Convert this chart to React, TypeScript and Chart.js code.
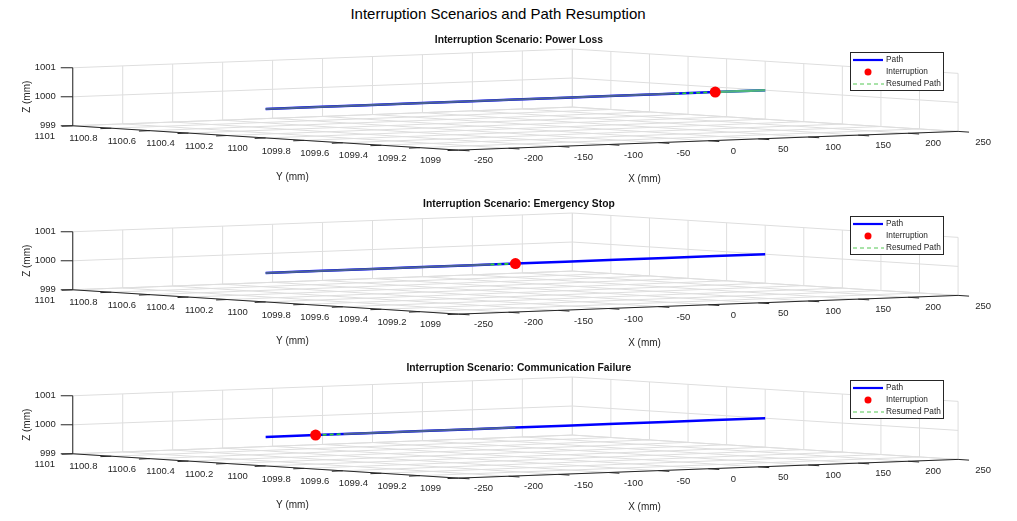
import React, { useEffect, useRef } from "react";
import { Chart, registerables } from "chart.js";

Chart.register(...registerables);

// ---------------- data ----------------
const FIG_TITLE = "Interruption Scenarios and Path Resumption";
const scenarioTitles = [
  "Interruption Scenario: Power Loss",
  "Interruption Scenario: Emergency Stop",
  "Interruption Scenario: Communication Failure",
];
const pathX = [-250, -200, -150, -100, -50, 0, 50, 100, 150, 200, 250];
const pathYValue = 1100;
const pathZValue = 1000;
const interruptionX = [200, 0, -200];
// resumed path pieces (x in mm)
const resumedDashStart = [160, -25, -200];
const resumedDashEnd = [200, 0, -172];
const resumedBlendStart = [-250, -250, -172];
const resumedBlendEnd = [160, -25, 0];
const resumedSolidStart = [200, NaN, NaN];
const resumedSolidEnd = [250, NaN, NaN];

const xTicks = [-250, -200, -150, -100, -50, 0, 50, 100, 150, 200, 250];
const xTickLabels = ["-250", "-200", "-150", "-100", "-50", "0", "50", "100", "150", "200", "250"];
const yTicks = [1101, 1100.8, 1100.6, 1100.4, 1100.2, 1100, 1099.8, 1099.6, 1099.4, 1099.2, 1099];
const yTickLabels = ["1101", "1100.8", "1100.6", "1100.4", "1100.2", "1100", "1099.8", "1099.6", "1099.4", "1099.2", "1099"];
const zTicks = [999, 1000, 1001];
const zTickLabels = ["999", "1000", "1001"];
const xRange = [-250, 250];
const yRange = [1101, 1099];
const zRange = [999, 1001];

// ---------------- layout / style ----------------
const W = 1017;
const H = 172;
const CANVAS_TOPS = [22, 186, 350];
const ORIGIN = { u: 68, v: 105 }; // screen point of (xmin, ymax, zmin) inside a subplot canvas
const EX = { u: 505, v: -20 };
const EY = { u: 390, v: 26 };
const EZ = { u: 0, v: -62 };
const FONT = "'Liberation Sans', Arial, Helvetica, sans-serif";
const TEXT = "#262626";
const GRID = "#dedede";
const AXIS = "#262626";
const BLUE = "#0000ff";
const RED = "#ff0000";
const GREEN_DASH = "#2fcf3a";
const GREEN_SOLID = "#4fb47e";
const BLEND = "#4a6391";

function proj(x: number, y: number, z: number) {
  const fx = (x - xRange[0]) / (xRange[1] - xRange[0]);
  const fy = (y - yRange[0]) / (yRange[1] - yRange[0]);
  const fz = (z - zRange[0]) / (zRange[1] - zRange[0]);
  return {
    x: ORIGIN.u + fx * EX.u + fy * EY.u + fz * EZ.u,
    y: ORIGIN.v + fx * EX.v + fy * EY.v + fz * EZ.v,
  };
}

function pathPt(x: number) {
  return proj(x, pathYValue, pathZValue);
}

function makePlugin(idx: number) {
  return {
    id: "matlab3d" + idx,
    beforeDatasetsDraw(chart: any) {
      const ctx = chart.ctx as CanvasRenderingContext2D;
      const sx = chart.scales.x;
      const sy = chart.scales.y;
      const P = (x: number, y: number, z: number) => {
        const p = proj(x, y, z);
        return [sx.getPixelForValue(p.x), sy.getPixelForValue(p.y)];
      };
      const seg = (a: number[], b: number[]) => {
        ctx.beginPath();
        ctx.moveTo(a[0], a[1]);
        ctx.lineTo(b[0], b[1]);
        ctx.stroke();
      };
      const [x0, x1] = xRange;
      const [y0, y1] = yRange;
      const [z0, z1] = zRange;
      ctx.save();
      ctx.strokeStyle = GRID;
      ctx.lineWidth = 1;
      // floor grid (z = zmin)
      xTicks.forEach((x) => seg(P(x, y0, z0), P(x, y1, z0)));
      yTicks.forEach((y) => seg(P(x0, y, z0), P(x1, y, z0)));
      // back-left wall (y = ymax)
      xTicks.forEach((x) => seg(P(x, y0, z0), P(x, y0, z1)));
      zTicks.forEach((z) => seg(P(x0, y0, z), P(x1, y0, z)));
      // back-right wall (x = xmax)
      yTicks.forEach((y) => seg(P(x1, y, z0), P(x1, y, z1)));
      zTicks.forEach((z) => seg(P(x1, y0, z), P(x1, y1, z)));

      // axis lines
      ctx.strokeStyle = AXIS;
      ctx.lineWidth = 1;
      seg(P(x0, y0, z0), P(x0, y0, z1));
      seg(P(x0, y0, z0), P(x0, y1, z0));
      seg(P(x0, y1, z0), P(x1, y1, z0));
      // tick marks
      const exLen = Math.hypot(EX.u, EX.v);
      const eyLen = Math.hypot(EY.u, EY.v);
      const tl = 11;
      zTicks.forEach((z) => {
        const a = P(x0, y0, z);
        seg(a, [a[0] - 12, a[1]]);
      });
      yTicks.forEach((y) => {
        const a = P(x0, y, z0);
        seg(a, [a[0] - (EX.u / exLen) * tl, a[1] - (EX.v / exLen) * tl]);
      });
      xTicks.forEach((x) => {
        const a = P(x, y1, z0);
        seg(a, [a[0] + (EY.u / eyLen) * tl, a[1] + (EY.v / eyLen) * tl]);
      });

      // tick labels
      ctx.fillStyle = TEXT;
      ctx.font = `9.5px ${FONT}`;
      ctx.textBaseline = "middle";
      ctx.textAlign = "right";
      zTicks.forEach((z, i) => {
        const a = P(x0, y0, z);
        ctx.fillText(zTickLabels[i], a[0] - 17, a[1]);
      });
      ctx.textAlign = "center";
      yTicks.forEach((y, i) => {
        const a = P(x0, y, z0);
        ctx.fillText(yTickLabels[i], a[0] - 28, a[1] + 10.5);
      });
      xTicks.forEach((x, i) => {
        const a = P(x, y1, z0);
        ctx.fillText(xTickLabels[i], a[0] + 25, a[1] + 10.5);
      });

      // axis labels
      ctx.font = `10px ${FONT}`;
      ctx.fillText("Y (mm)", sx.getPixelForValue(290), sy.getPixelForValue(160));
      ctx.fillText("X (mm)", sx.getPixelForValue(646), sy.getPixelForValue(162));
      ctx.save();
      ctx.translate(sx.getPixelForValue(22), sy.getPixelForValue(74));
      ctx.rotate(-Math.PI / 2);
      ctx.fillText("Z (mm)", 0, 0);
      ctx.restore();

      // subplot title
      ctx.fillStyle = "#111111";
      ctx.font = `bold 10.3px ${FONT}`;
      ctx.fillText(scenarioTitles[idx], sx.getPixelForValue(519), sy.getPixelForValue(13));
      ctx.restore();
    },
    afterDatasetsDraw(chart: any) {
      const ctx = chart.ctx as CanvasRenderingContext2D;
      const bx = 850;
      const by = 30;
      const bw = 93;
      const bh = 38;
      ctx.save();
      ctx.fillStyle = "#ffffff";
      ctx.fillRect(bx, by, bw, bh);
      ctx.strokeStyle = AXIS;
      ctx.lineWidth = 1;
      ctx.strokeRect(bx + 0.5, by + 0.5, bw, bh);
      const rows = [by + 8, by + 20, by + 32];
      // Path
      ctx.strokeStyle = BLUE;
      ctx.lineWidth = 2.2;
      ctx.beginPath();
      ctx.moveTo(bx + 3, rows[0]);
      ctx.lineTo(bx + 33, rows[0]);
      ctx.stroke();
      // Interruption
      ctx.fillStyle = RED;
      ctx.beginPath();
      ctx.arc(bx + 18, rows[1], 3.5, 0, Math.PI * 2);
      ctx.fill();
      // Resumed path
      ctx.strokeStyle = "#55c855";
      ctx.lineWidth = 1.2;
      ctx.setLineDash([4, 3]);
      ctx.beginPath();
      ctx.moveTo(bx + 3, rows[2]);
      ctx.lineTo(bx + 34, rows[2]);
      ctx.stroke();
      ctx.setLineDash([]);
      ctx.fillStyle = TEXT;
      ctx.font = `8.3px ${FONT}`;
      ctx.textAlign = "left";
      ctx.textBaseline = "middle";
      ctx.fillText("Path", bx + 36, rows[0]);
      ctx.fillText("Interruption", bx + 36, rows[1]);
      ctx.fillText("Resumed Path", bx + 36, rows[2]);
      ctx.restore();
    },
  };
}

function Subplot({ idx }: { idx: number }) {
  const ref = useRef<HTMLCanvasElement>(null);
  useEffect(() => {
    const canvas = ref.current;
    if (!canvas) return;
    const datasets: any[] = [
      {
        label: "Interruption",
        data: [pathPt(interruptionX[idx])],
        showLine: false,
        pointRadius: 5.5,
        pointBackgroundColor: RED,
        pointBorderColor: RED,
        pointBorderWidth: 0,
        order: 0,
      },
      {
        label: "Resumed Path",
        data: [pathPt(resumedDashStart[idx]), pathPt(resumedDashEnd[idx])],
        showLine: true,
        borderColor: GREEN_DASH,
        borderWidth: 1.8,
        borderDash: [4, 3],
        pointRadius: 0,
        order: 1,
      },
      {
        label: "Resumed Path (overlap)",
        data: isNaN(resumedSolidStart[idx])
          ? []
          : [pathPt(resumedSolidStart[idx]), pathPt(resumedSolidEnd[idx])],
        showLine: true,
        borderColor: GREEN_SOLID,
        borderWidth: 2.5,
        pointRadius: 0,
        order: 1,
      },
      {
        label: "Resumed Path (blend)",
        data: [pathPt(resumedBlendStart[idx]), pathPt(resumedBlendEnd[idx])],
        showLine: true,
        borderColor: BLEND,
        borderWidth: 2,
        pointRadius: 0,
        order: 2,
      },
      {
        label: "Path",
        data: pathX.map((x) => pathPt(x)),
        showLine: true,
        borderColor: BLUE,
        borderWidth: 2.5,
        pointRadius: 0,
        order: 3,
      },
    ];
    const chart = new Chart(canvas, {
      type: "scatter",
      data: { datasets },
      options: {
        responsive: false,
        maintainAspectRatio: false,
        animation: false,
        events: [],
        layout: { padding: 0 },
        plugins: {
          legend: { display: false },
          tooltip: { enabled: false },
          title: { display: false },
        },
        scales: {
          x: { type: "linear", min: 0, max: W, display: false },
          y: { type: "linear", min: 0, max: H, reverse: true, display: false },
        },
      },
      plugins: [makePlugin(idx)],
    } as any);
    return () => chart.destroy();
  }, [idx]);
  return (
    <canvas
      ref={ref}
      width={W}
      height={H}
      style={{ position: "absolute", left: 0, top: CANVAS_TOPS[idx], width: W, height: H }}
    />
  );
}

export default function App() {
  return (
    <div
      style={{
        position: "absolute",
        left: 0,
        top: 0,
        width: W,
        height: 521,
        background: "#ffffff",
        overflow: "hidden",
      }}
    >
      <div
        style={{
          position: "absolute",
          left: 0,
          top: 5,
          width: 996,
          textAlign: "center",
          fontFamily: FONT,
          fontSize: 15,
          lineHeight: "18px",
          color: "#000000",
        }}
      >
        {FIG_TITLE}
      </div>
      {scenarioTitles.map((_, i) => (
        <Subplot key={i} idx={i} />
      ))}
    </div>
  );
}
